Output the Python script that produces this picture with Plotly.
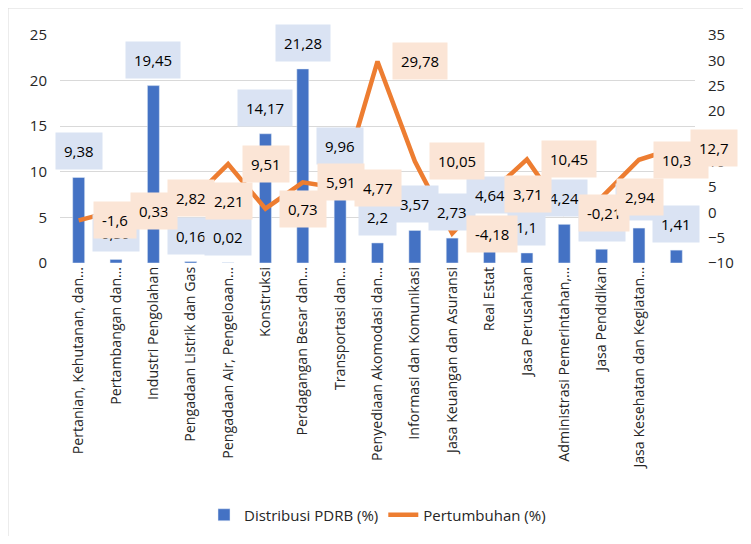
import plotly.graph_objects as go

categories = [
    "Pertanian, Kehutanan, dan…",
    "Pertambangan dan…",
    "Industri Pengolahan",
    "Pengadaan Listrik dan Gas",
    "Pengadaan Air, Pengeloaan…",
    "Konstruksi",
    "Perdagangan Besar dan…",
    "Transportasi dan…",
    "Penyediaan Akomodasi dan…",
    "Informasi dan Komunikasi",
    "Jasa Keuangan dan Asuransi",
    "Real Estat",
    "Jasa Perusahaan",
    "Administrasi Pemerintahan,…",
    "Jasa Pendidikan",
    "Jasa Kesehatan dan Kegiatan…",
    " ",
]
distribusi = [9.38, 0.39, 19.45, 0.16, 0.02, 14.17, 21.28, 9.96, 2.2, 3.57,
              2.73, 4.64, 1.1, 4.24, 1.51, 3.83, 1.41]
pertumbuhan = [-1.6, 0.33, 2.82, 2.21, 9.51, 0.73, 5.91, 4.77, 29.78, 10.05,
               -4.18, 3.71, 10.45, -0.21, 2.94, 10.38, 12.7]
series_names = ["Distribusi PDRB (%)", "Pertumbuhan (%)"]

BLUE = "#4472C4"
ORANGE = "#ED7D31"
FONT = "Open Sans, Noto Sans, sans-serif"


def fmt(v):
    return f"{v:g}".replace(".", ",")


fig = go.Figure()
fig.add_trace(go.Bar(
    x=categories, y=distribusi, name=series_names[0],
    marker=dict(color=BLUE), width=0.32, yaxis="y",
))
fig.add_trace(go.Scatter(
    x=categories, y=pertumbuhan, name=series_names[1], mode="lines",
    line=dict(color=ORANGE, width=4.5), yaxis="y2",
))

annotations = []
for c, v in zip(categories, distribusi):
    annotations.append(dict(
        x=c, y=v, xref="x", yref="y", text=fmt(v), showarrow=False,
        xanchor="center", yanchor="bottom", yshift=7,
        bgcolor="#DAE3F3", borderpad=8,
        font=dict(family=FONT, size=15, color="#000000"),
    ))
for c, v in zip(categories, pertumbuhan):
    annotations.append(dict(
        x=c, y=v, xref="x", yref="y2", text=fmt(v), showarrow=False,
        xanchor="left", yanchor="middle", xshift=14,
        bgcolor="#FBE5D6", borderpad=8,
        font=dict(family=FONT, size=15, color="#000000"),
    ))

# page has an 8px body margin; figure sized to fill the 751x544 window
W, H = 735, 528
L, R, T, B = 52, 48, 27, 273
pw, ph = W - L - R, H - T - B

fig.update_layout(
    width=W, height=H,
    margin=dict(l=L, r=R, t=T, b=B, autoexpand=False),
    paper_bgcolor="white", plot_bgcolor="white",
    font=dict(family=FONT, size=15, color="#262626"),
    showlegend=True,
    legend=dict(orientation="h", x=0.5, xanchor="center",
                y=-(507 - (T + ph)) / ph, yanchor="middle",
                font=dict(size=15, color="#262626"), traceorder="normal"),
    xaxis=dict(type="category", tickangle=-90, showgrid=False,
               tickfont=dict(size=14.2, color="#262626"), showline=False,
               ticks="", range=[-0.5, len(categories) - 0.5]),
    yaxis=dict(range=[0, 25], dtick=5, showgrid=True, gridcolor="#D9D9D9",
               gridwidth=1, zeroline=False, ticks="",
               tickfont=dict(size=15, color="#262626"), ticklabelstandoff=12),
    yaxis2=dict(range=[-10, 35], dtick=5, overlaying="y", side="right",
                showgrid=False, zeroline=False, ticks="",
                tickfont=dict(size=15, color="#262626"), ticklabelstandoff=12),
    annotations=annotations,
    shapes=[dict(type="rect", xref="paper", yref="paper",
                 x0=-L / pw, x1=(W + 10 - L) / pw,
                 y0=-(H + 10 - T - ph) / ph, y1=(T + ph) / ph,
                 line=dict(color="#D9D9D9", width=1), layer="below")],
)

fig.write_html("out.html")
